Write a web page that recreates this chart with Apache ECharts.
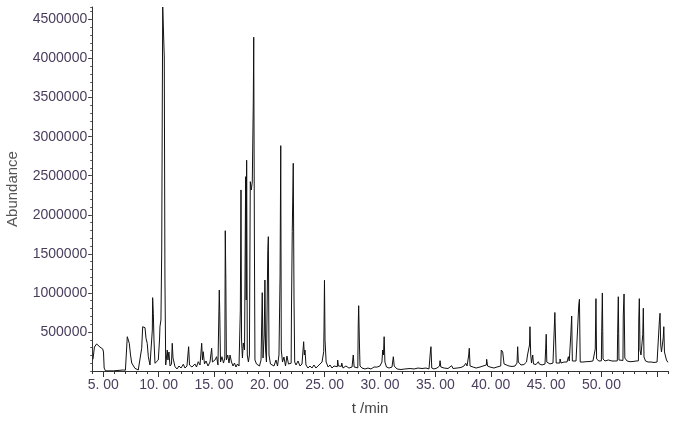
<!DOCTYPE html>
<html><head><meta charset="utf-8">
<script src="https://cdn.jsdelivr.net/npm/echarts@6/dist/echarts.min.js"></script>
<style>html,body{margin:0;padding:0;background:#fff}#c{width:675px;height:421px}</style>
</head><body><div id="c"></div>
<script>
// retention time (min)
const times = [
4.07,4.20,4.40,4.57,4.70,4.95,5.02,5.08,5.15,5.2,5.9,5.95,6.8,6.85,7.0,7.05,7.17,7.21,7.35,7.46,7.57,7.86,8.16,
8.32,8.47,8.56,8.68,8.77,8.86,8.92,8.97,9.07,9.22,9.34,9.43,9.46,9.52,9.58,9.67,9.82,9.97,10.08,10.12,10.21,10.28,10.33,10.37,10.45,10.51,10.57,10.64,
10.71,10.78,10.84,10.93,11.03,11.16,11.23,11.30,11.48,11.66,11.84,12.02,12.23,12.38,12.56,12.68,12.71,12.79,13.01,13.28,13.42,13.58,13.74,13.86,13.89,13.96,14.03,14.14,14.28,14.46,14.64,14.79,14.86,15.09,15.24,15.36,15.45,15.48,15.52,15.59,15.72,15.86,15.98,16.02,16.07,16.12,
16.24,16.36,16.45,16.58,16.72,16.85,16.99,17.12,17.26,17.35,17.38,17.44,17.49,17.57,17.65,17.71,17.76,17.86,17.91,17.95,18.01,18.11,18.20,18.28,18.37,18.46,18.55,18.59,18.65,18.70,18.84,18.97,19.11,19.25,19.33,19.36,19.43,19.54,19.60,19.66,19.74,19.83,19.86,19.91,19.97,
20.10,20.24,20.42,20.60,20.74,20.87,20.97,21.03,21.08,21.19,21.32,21.46,21.59,21.73,21.87,21.97,22.00,22.07,22.16,22.23,22.29,22.41,22.59,22.77,22.95,23.07,23.10,23.16,23.22,23.31,23.49,23.67,23.85,24.03,24.21,24.39,24.57,24.76,24.88,24.91,24.94,24.98,25.03,25.13,
25.31,25.48,25.66,25.84,26.02,26.14,26.17,26.24,26.51,26.54,26.65,26.92,27.19,27.47,27.55,27.58,27.66,27.83,27.99,28.03,28.07,28.13,28.19,28.37,28.64,28.91,29.18,29.45,29.72,29.75,29.86,29.99,30.17,30.24,30.31,30.37,30.44,30.58,30.81,31.08,31.17,31.20,31.28,31.53,31.89,32.25,32.71,33.07,33.43,33.79,34.15,34.42,34.53,34.56,34.60,34.67,34.87,
35.14,35.37,35.42,35.49,35.78,36.14,36.47,36.59,36.95,37.31,37.58,37.74,37.86,37.98,38.01,38.06,38.13,38.40,38.67,39.03,39.30,39.48,39.60,39.63,39.71,39.93,40.29,40.56,40.90,40.95,41.02,41.08,41.13,41.20,41.38,41.65,41.92,42.19,42.37,42.43,42.49,42.73,43.00,
43.23,43.32,43.43,43.50,43.54,43.61,43.68,43.79,43.86,44.09,44.27,44.30,44.38,44.63,44.90,44.96,45.01,45.06,45.35,45.62,45.76,45.79,45.85,45.91,46.08,46.23,46.26,46.35,46.62,46.89,47.01,47.09,47.23,47.31,47.37,47.52,47.70,47.88,47.95,48.01,48.08,48.33,48.60,48.69,48.96,
49.23,49.41,49.44,49.50,49.56,49.77,49.99,50.02,50.08,50.14,50.32,50.62,50.71,50.95,51.22,51.43,51.46,51.52,51.58,51.76,51.94,51.97,52.04,52.11,52.31,52.58,52.85,53.12,53.34,53.37,53.42,53.48,53.57,53.70,53.73,53.78,53.84,53.98,54.21,54.48,54.75,55.02,55.20,55.23,55.29,55.35,55.42,55.55,55.58,55.63,55.69,55.87,56.0];
// abundance (counts)
const abundance = [
150000,307000,346000,333000,307000,282000,243000,38000,13000,2000,2000,13000,13000,5000,10000,13000,439000,420000,355000,205000,102000,35000,13000,
35000,291000,567000,589000,554000,419000,439000,355000,183000,77000,64000,525000,939000,739000,397000,99000,77000,141000,397000,567000,653000,1549000,3367000,4660000,4660000,4020000,1191000,77000,
64000,269000,141000,243000,64000,90000,355000,166000,55000,26000,64000,38000,86000,38000,64000,65000,311000,77000,51000,90000,51000,119000,77000,80000,355000,141000,247000,90000,128000,64000,115000,291000,115000,141000,183000,77000,80000,1037000,759000,115000,183000,102000,166000,1796000,1174000,141000,
205000,102000,205000,115000,64000,102000,51000,90000,64000,70000,781000,2318000,397000,166000,358000,333000,269000,2488000,909000,2698000,205000,115000,205000,2424000,2318000,2420000,3440000,4273000,1677000,141000,90000,115000,64000,141000,140000,1003000,166000,461000,1165000,269000,115000,110000,1540000,1720000,205000,
90000,115000,64000,141000,64000,205000,1216000,2885000,269000,115000,179000,64000,192000,90000,115000,100000,781000,1784000,2659000,909000,115000,77000,128000,64000,90000,90000,375000,205000,269000,77000,38000,64000,38000,77000,38000,64000,51000,115000,100000,247000,538000,1161000,397000,115000,
51000,77000,38000,64000,51000,55000,141000,64000,60000,102000,38000,64000,38000,51000,50000,205000,51000,38000,40000,589000,836000,397000,64000,38000,26000,38000,26000,51000,50000,68000,38000,64000,115000,269000,205000,439000,115000,51000,38000,51000,50000,183000,64000,26000,19000,26000,32000,26000,38000,32000,38000,26000,30000,269000,311000,38000,26000,
38000,64000,132000,51000,38000,32000,68000,32000,38000,45000,64000,99000,64000,64000,205000,291000,64000,51000,38000,51000,64000,77000,77000,150000,64000,51000,38000,51000,64000,269000,291000,243000,230000,90000,77000,64000,58000,64000,102000,311000,115000,77000,83000,
115000,205000,198000,333000,567000,205000,102000,205000,90000,83000,83000,119000,90000,77000,90000,291000,470000,115000,90000,102000,105000,749000,759000,102000,102000,102000,154000,102000,115000,115000,183000,128000,461000,704000,128000,115000,128000,141000,845000,918000,115000,115000,119000,115000,122000,
128000,125000,282000,926000,154000,128000,130000,503000,999000,154000,128000,141000,122000,128000,128000,130000,483000,951000,141000,134000,135000,717000,986000,166000,128000,119000,122000,128000,130000,666000,926000,269000,205000,200000,470000,803000,179000,128000,115000,115000,109000,115000,118000,640000,739000,333000,243000,240000,426000,567000,243000,141000,111000];

const xTickValues = [5,10,15,20,25,30,35,40,45,50,55];
const xLabelValues = [5,10,15,20,25,30,35,40,45,50];
const yTickValues = [500000,1000000,1500000,2000000,2500000,3000000,3500000,4000000,4500000];

const n = Math.min(times.length, abundance.length);
const data = times.slice(0, n).map((t, i) => [t, abundance[i]]);
const labelColor = '#4a3d5c';
const chart = echarts.init(document.getElementById('c'), null, {renderer: 'canvas'});
chart.setOption({
  animation: false,
  grid: {left: 92.2, right: 7.1, top: 7, bottom: 50, containLabel: false, outerBoundsMode: 'none'},
  xAxis: [{
    type: 'value', min: 4, max: 56,
    name: 't /min', nameLocation: 'middle', nameGap: 30,
    nameTextStyle: {fontSize: 15, color: '#444', fontFamily: 'Liberation Sans', padding: [0, 20, 0, 0]},
    axisLine: {show: true, lineStyle: {color: '#333', width: 1}},
    axisTick: {show: true, length: 6, customValues: xTickValues, lineStyle: {color: '#333'}},
    axisLabel: {customValues: xLabelValues, formatter: v => v + '. 00', color: labelColor, fontSize: 14, fontFamily: 'Liberation Sans', margin: 7},
    splitLine: {show: false}
  }, {
    type: 'value', min: 4, max: 56, interval: 1, position: 'bottom',
    axisLine: {show: false},
    axisTick: {show: true, length: 3, lineStyle: {color: '#333'}},
    axisLabel: {show: false}, splitLine: {show: false}
  }],
  yAxis: [{
    type: 'value', min: 0, max: 4660000,
    name: 'Abundance', nameLocation: 'middle', nameGap: 72,
    nameTextStyle: {fontSize: 15, color: '#555', fontFamily: 'Liberation Sans'},
    axisLine: {show: true, lineStyle: {color: '#333', width: 1}},
    axisTick: {show: true, length: 4, customValues: yTickValues, lineStyle: {color: '#333'}},
    axisLabel: {customValues: yTickValues, formatter: v => String(v), color: labelColor, fontSize: 14, fontFamily: 'Liberation Sans', margin: 5},
    splitLine: {show: false}
  }, {
    type: 'value', min: 0, max: 4660000, interval: 100000, position: 'left',
    axisLine: {show: false},
    axisTick: {show: true, length: 2, lineStyle: {color: '#555'}},
    axisLabel: {show: false}, splitLine: {show: false}
  }],
  series: [{
    type: 'line', xAxisIndex: 0, yAxisIndex: 0, data: data,
    showSymbol: false, symbol: 'none', sampling: null,
    lineStyle: {color: '#111', width: 1}
  }]
});
</script></body></html>
